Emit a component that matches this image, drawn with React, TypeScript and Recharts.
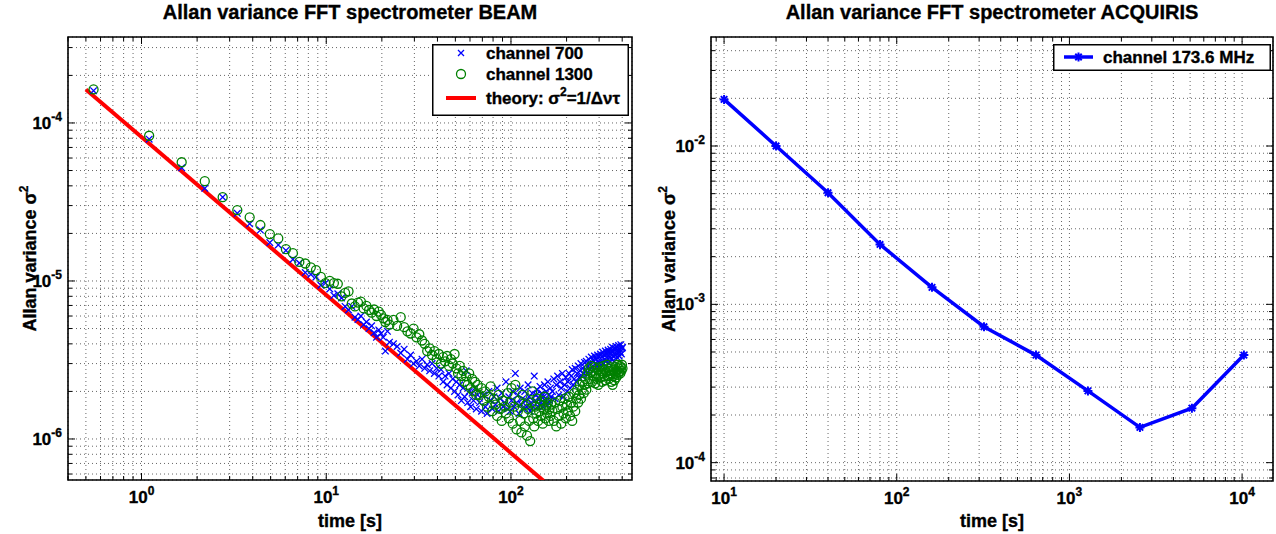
import React from 'react';
import {
  ComposedChart,
  Scatter,
  Line,
  XAxis,
  YAxis,
  CartesianGrid,
  ReferenceArea,
  Legend,
} from 'recharts';

const FONT = '"Liberation Sans", Arial, Helvetica, sans-serif';
const BLUE = '#0000ff';
const GREEN = '#008000';
const RED = '#ff0000';

// ---------- Left panel: BEAM (integration time tau [s]) ----------
const beamTau: number[] = [
  // every sample
  0.55, 1.1, 1.65, 2.2, 2.75, 3.3, 3.85, 4.4, 4.95, 5.5, 6.05, 6.6, 7.15, 7.7, 8.25, 8.8, 9.35, 9.9, 10.45, 11.0,
  11.55, 12.1, 12.65, 13.2, 13.75, 14.3, 14.85, 15.4, 15.95, 16.5, 17.05, 17.6, 18.15, 18.7, 19.25, 19.8, 20.35, 20.9, 21.45, 22.0,
  // every 2nd
  23.1, 24.2, 25.3, 26.4, 27.5, 28.6, 29.7, 30.8, 31.9, 33.0, 34.1, 35.2, 36.3, 37.4, 38.5, 39.6, 40.7, 41.8, 42.9, 44.0,
  45.1, 46.2, 47.3, 48.4, 49.5, 50.6, 51.7, 52.8, 53.9, 55.0, 56.1, 57.2, 58.3, 59.4, 60.5, 61.6, 62.7, 63.8, 64.9, 66.0,
  // every 3rd
  67.65, 69.3, 70.95, 72.6, 74.25, 75.9, 77.55, 79.2, 80.85, 82.5, 84.15, 85.8, 87.45, 89.1, 90.75, 92.4, 94.05, 95.7, 97.35, 99.0,
  100.65, 102.3, 103.95, 105.6, 107.25, 108.9, 110.55, 112.2, 113.85, 115.5, 117.15, 118.8, 120.45, 122.1, 123.75, 125.4, 127.05, 128.7, 130.35, 132.0,
  133.65, 135.3, 136.95, 138.6, 140.25, 141.9, 143.55, 145.2, 146.85, 148.5, 150.15, 151.8, 153.45, 155.1, 156.75, 158.4, 160.05, 161.7, 163.35, 165.0,
  // every 5th
  167.75, 170.5, 173.25, 176.0, 178.75, 181.5, 184.25, 187.0, 189.75, 192.5, 195.25, 198.0, 200.75,
  203.5, 206.25, 209.0, 211.75, 214.5, 217.25, 220.0, 222.75, 225.5, 228.25, 231.0, 233.75, 236.5, 239.25, 242.0, 244.75, 247.5, 250.25,
  253.0, 255.75, 258.5, 261.25, 264.0, 266.75, 269.5, 272.25, 275.0, 277.75, 280.5, 283.25, 286.0, 288.75, 291.5, 294.25, 297.0, 299.75,
  302.5, 305.25, 308.0, 310.75, 313.5, 316.25, 319.0, 321.75, 324.5, 327.25, 330.0, 332.75, 335.5, 338.25, 341.0, 343.75, 346.5, 349.25,
  352.0, 354.75, 357.5, 360.25, 363.0, 365.75, 368.5, 371.25, 374.0, 376.75, 379.5, 382.25, 385.0, 387.75, 390.5, 393.25, 396.0, 398.75, 401.5,
];

const channel700: number[] = [
  1.6e-4, 7.9e-5, 5.2e-5, 3.86e-5, 3.39e-5, 2.68e-5, 2.3e-5, 2.1e-5, 1.75e-5, 1.69e-5,
  1.56e-5, 1.37e-5, 1.3e-5, 1.13e-5, 1.1e-5, 1.06e-5, 9.4e-6, 9.7e-6, 8.9e-6, 8.1e-6,
  8.3e-6, 7.8e-6, 6.9e-6, 6.55e-6, 6.9e-6, 5.9e-6, 5.7e-6, 6.0e-6, 5.3e-6, 5.5e-6,
  5.0e-6, 5.2e-6, 4.7e-6, 4.4e-6, 4.9e-6, 4.65e-6, 4.4e-6, 3.6e-6, 4.8e-6, 4.1e-6,
  4.0e-6, 3.85e-6, 3.5e-6, 3.7e-6, 3.2e-6, 3.4e-6, 3.0e-6, 3.1e-6, 2.9e-6, 3.2e-6,
  2.8e-6, 2.95e-6, 2.7e-6, 3.0e-6, 2.6e-6, 2.8e-6, 2.5e-6, 2.75e-6, 2.3e-6, 2.5e-6,
  2.2e-6, 2.6e-6, 2.1e-6, 2.4e-6, 2.0e-6, 2.3e-6, 1.9e-6, 2.2e-6, 1.75e-6, 2.1e-6,
  1.85e-6, 2.7e-6, 1.7e-6, 2.0e-6, 1.6e-6, 1.95e-6, 1.75e-6, 2.1e-6, 1.55e-6, 1.9e-6,
  1.7e-6, 1.5e-6, 1.9e-6, 1.6e-6, 1.45e-6, 2.0e-6, 1.75e-6, 1.55e-6, 1.85e-6, 1.65e-6,
  2.1e-6, 1.5e-6, 1.8e-6, 1.95e-6, 1.6e-6, 1.7e-6, 2.3e-6, 1.55e-6, 1.85e-6, 1.5e-6,
  1.75e-6, 2.0e-6, 1.6e-6, 2.6e-6, 1.7e-6, 1.9e-6, 1.45e-6, 2.1e-6, 1.65e-6, 1.8e-6,
  1.55e-6, 2.0e-6, 1.75e-6, 1.6e-6, 2.2e-6, 1.85e-6, 1.5e-6, 1.7e-6, 1.95e-6, 1.6e-6,
  2.5e-6, 1.75e-6, 1.9e-6, 2.05e-6, 1.6e-6, 1.8e-6, 2.15e-6, 1.7e-6, 1.95e-6, 1.6e-6,
  1.85e-6, 2.2e-6, 1.75e-6, 2.0e-6, 1.65e-6, 2.3e-6, 1.9e-6, 1.75e-6, 2.1e-6, 1.85e-6,
  2.0e-6, 2.4e-6, 1.8e-6, 2.2e-6, 2.5e-6, 1.9e-6, 2.3e-6, 2.1e-6, 2.6e-6, 1.85e-6, 2.2e-6, 2.45e-6, 2.0e-6,
  2.3e-6, 2.6e-6, 2.1e-6, 2.5e-6, 2.75e-6, 2.2e-6, 2.4e-6, 2.8e-6, 2.3e-6, 2.6e-6, 2.9e-6, 2.45e-6, 2.7e-6, 3.0e-6, 2.5e-6, 2.8e-6, 2.6e-6, 3.05e-6,
  2.7e-6, 3.1e-6, 2.6e-6, 2.9e-6, 3.2e-6, 2.75e-6, 3.0e-6, 3.3e-6, 2.85e-6, 3.15e-6, 2.7e-6, 3.35e-6, 3.0e-6, 3.2e-6, 2.9e-6, 3.4e-6, 3.05e-6, 3.3e-6,
  2.9e-6, 3.45e-6, 3.1e-6, 3.3e-6, 3.55e-6, 3.0e-6, 3.4e-6, 3.2e-6, 3.6e-6, 3.1e-6, 3.45e-6, 3.25e-6, 3.65e-6, 3.0e-6, 3.5e-6, 3.3e-6, 3.7e-6, 3.2e-6,
  3.55e-6, 3.8e-6, 3.35e-6, 3.6e-6, 3.1e-6, 3.75e-6, 3.4e-6, 3.85e-6, 3.3e-6, 3.65e-6, 3.5e-6, 3.9e-6, 3.35e-6, 3.7e-6, 3.55e-6, 3.95e-6, 3.45e-6, 3.75e-6, 3.8e-6,
];

const channel1300: number[] = [
  1.63e-4, 8.3e-5, 5.64e-5, 4.28e-5, 3.39e-5, 2.81e-5, 2.53e-5, 2.26e-5, 1.98e-5, 1.86e-5,
  1.59e-5, 1.5e-5, 1.32e-5, 1.29e-5, 1.22e-5, 1.17e-5, 1.06e-5, 9.7e-6, 1.0e-5, 9.7e-6,
  9.6e-6, 8.0e-6, 8.4e-6, 8.6e-6, 7.2e-6, 6.9e-6, 7.3e-6, 7.4e-6, 6.7e-6, 6.95e-6,
  6.55e-6, 6.3e-6, 6.6e-6, 6.0e-6, 6.4e-6, 6.1e-6, 5.8e-6, 5.5e-6, 5.67e-6, 5.3e-6,
  5.67e-6, 5.2e-6, 5.9e-6, 5.1e-6, 4.8e-6, 4.65e-6, 5.0e-6, 4.4e-6, 4.6e-6, 4.2e-6,
  4.0e-6, 3.6e-6, 3.75e-6, 3.4e-6, 3.6e-6, 3.2e-6, 3.45e-6, 3.0e-6, 3.3e-6, 3.1e-6,
  3.35e-6, 2.9e-6, 3.2e-6, 3.0e-6, 3.45e-6, 2.8e-6, 2.6e-6, 2.9e-6, 2.5e-6, 2.7e-6,
  2.3e-6, 2.5e-6, 2.2e-6, 2.6e-6, 2.1e-6, 2.4e-6, 2.0e-6, 2.3e-6, 1.9e-6, 2.2e-6,
  1.9e-6, 2.1e-6, 1.75e-6, 2.0e-6, 1.6e-6, 1.85e-6, 2.15e-6, 1.5e-6, 1.8e-6, 1.65e-6,
  1.4e-6, 1.9e-6, 1.55e-6, 1.3e-6, 1.75e-6, 1.6e-6, 1.45e-6, 1.95e-6, 1.35e-6, 1.7e-6,
  2.1e-6, 1.25e-6, 1.6e-6, 2.2e-6, 1.15e-6, 1.5e-6, 1.75e-6, 1.3e-6, 1.1e-6, 1.9e-6,
  1.45e-6, 1.2e-6, 1.65e-6, 1.05e-6, 1.55e-6, 1.3e-6, 0.97e-6, 1.7e-6, 2.0e-6, 1.35e-6,
  1.2e-6, 1.6e-6, 1.45e-6, 1.8e-6, 1.3e-6, 1.5e-6, 1.65e-6, 1.4e-6, 1.75e-6, 1.25e-6,
  1.55e-6, 1.85e-6, 1.35e-6, 1.6e-6, 1.45e-6, 1.7e-6, 1.3e-6, 1.55e-6, 1.4e-6, 1.65e-6,
  1.5e-6, 1.3e-6, 1.7e-6, 1.2e-6, 1.55e-6, 1.4e-6, 1.75e-6, 1.25e-6, 1.6e-6, 1.45e-6, 1.8e-6, 1.35e-6, 1.65e-6,
  1.5e-6, 1.85e-6, 1.4e-6, 1.7e-6, 1.3e-6, 1.6e-6, 1.95e-6, 1.5e-6, 1.8e-6, 2.05e-6, 1.7e-6, 1.9e-6, 2.2e-6, 1.8e-6, 2.05e-6, 2.3e-6, 1.95e-6, 2.2e-6,
  2.4e-6, 2.05e-6, 2.6e-6, 2.25e-6, 2.8e-6, 2.4e-6, 2.65e-6, 2.9e-6, 2.3e-6, 2.7e-6, 2.5e-6, 2.85e-6, 2.25e-6, 2.6e-6, 2.4e-6, 2.75e-6, 2.2e-6, 2.55e-6,
  2.85e-6, 2.45e-6, 2.7e-6, 2.3e-6, 2.6e-6, 2.9e-6, 2.5e-6, 2.75e-6, 2.35e-6, 2.65e-6, 2.95e-6, 2.5e-6, 2.8e-6, 2.4e-6, 2.7e-6, 2.55e-6, 2.85e-6, 2.3e-6,
  2.6e-6, 2.2e-6, 2.5e-6, 2.75e-6, 2.35e-6, 2.6e-6, 2.85e-6, 2.45e-6, 2.7e-6, 2.95e-6, 2.55e-6, 2.8e-6, 2.65e-6, 2.9e-6, 2.6e-6, 2.85e-6, 2.7e-6, 2.95e-6, 2.8e-6,
];

const theoryTau: number[] = [0.5, 150];
const theoryVar: number[] = [1.63e-4, 5.43e-7];

const beamXTicks: number[] = [
  0.4, 0.5, 0.6, 0.7, 0.8, 0.9, 1, 2, 3, 4, 5, 6, 7, 8, 9, 10, 20, 30, 40, 50, 60, 70, 80, 90, 100, 200, 300, 400,
];
const beamYTicks: number[] = [
  6e-7, 7e-7, 8e-7, 9e-7, 1e-6, 2e-6, 3e-6, 4e-6, 5e-6, 6e-6, 7e-6, 8e-6, 9e-6,
  1e-5, 2e-5, 3e-5, 4e-5, 5e-5, 6e-5, 7e-5, 8e-5, 9e-5, 1e-4, 2e-4, 3e-4,
];
const beamXDomain: [number, number] = [0.4, 452];
const beamYDomain: [number, number] = [5.5e-7, 3.5e-4];

// ---------- Right panel: ACQUIRIS ----------
const acqTau: number[] = [10, 20, 40, 80, 160, 320, 640, 1280, 2560, 5120, 10240];
const acqVar: number[] = [0.0197, 0.01, 0.00507, 0.00239, 0.00128, 0.000722, 0.000478, 0.000284, 0.000167, 0.000221, 0.000478];

const acqXTicks: number[] = [
  9, 10, 20, 30, 40, 50, 60, 70, 80, 90, 100, 200, 300, 400, 500, 600, 700, 800, 900,
  1000, 2000, 3000, 4000, 5000, 6000, 7000, 8000, 9000, 10000,
];
const acqYTicks: number[] = [
  8e-5, 9e-5, 1e-4, 2e-4, 3e-4, 4e-4, 5e-4, 6e-4, 7e-4, 8e-4, 9e-4,
  1e-3, 2e-3, 3e-3, 4e-3, 5e-3, 6e-3, 7e-3, 8e-3, 9e-3, 1e-2, 2e-2, 3e-2, 4e-2,
];
const acqXDomain: [number, number] = [8.4, 15100];
const acqYDomain: [number, number] = [7.66e-5, 0.0488];

// ---------- table building ----------
const ch700Data = beamTau.map((t, i) => ({ x: t, y: channel700[i] }));
const ch1300Data = beamTau.map((t, i) => ({ x: t, y: channel1300[i] }));
const theoryData = theoryTau.map((t, i) => ({ x: t, y: theoryVar[i] }));
const acqData = acqTau.map((t, i) => ({ x: t, y: acqVar[i] }));

// ---------- helpers ----------
const isDecade = (v: number) => {
  const lg = Math.log10(v);
  return Math.abs(lg - Math.round(lg)) < 1e-6;
};

const TXT = { fontFamily: FONT, fontWeight: 'bold' as const, fill: '#000', stroke: '#000', strokeWidth: 0.35 };

const makeXTick = (plotTop: number) => (props: any) => {
  const { x, y, payload } = props;
  const v = payload.value as number;
  const major = isDecade(v);
  const len = major ? 7 : 4;
  return (
    <g>
      <line x1={x} x2={x} y1={y} y2={y - len} stroke="#000" strokeWidth={1} />
      <line x1={x} x2={x} y1={plotTop} y2={plotTop + len} stroke="#000" strokeWidth={1} />
      {major && (
        <text x={x} y={y + 23} textAnchor="middle" fontSize={17} {...TXT}>
          10
          <tspan dy={-8} fontSize={12}>
            {Math.round(Math.log10(v))}
          </tspan>
        </text>
      )}
    </g>
  );
};

const makeYTick = (plotRight: number) => (props: any) => {
  const { x, y, payload } = props;
  const v = payload.value as number;
  const major = isDecade(v);
  const len = major ? 7 : 4;
  return (
    <g>
      <line x1={x} x2={x + len} y1={y} y2={y} stroke="#000" strokeWidth={1} />
      <line x1={plotRight} x2={plotRight - len} y1={y} y2={y} stroke="#000" strokeWidth={1} />
      {major && (
        <text x={x - 6} y={y + 6} textAnchor="end" fontSize={17} {...TXT}>
          10
          <tspan dy={-8} fontSize={12}>
            {String(Math.round(Math.log10(v)))}
          </tspan>
        </text>
      )}
    </g>
  );
};

const CrossShape = (props: any) => {
  const { cx, cy } = props;
  if (cx == null || cy == null) return <g />;
  const s = 3.3;
  return (
    <path
      d={`M${cx - s},${cy - s}L${cx + s},${cy + s}M${cx - s},${cy + s}L${cx + s},${cy - s}`}
      stroke={BLUE}
      strokeWidth={1.3}
      fill="none"
    />
  );
};

const CircleShape = (props: any) => {
  const { cx, cy } = props;
  if (cx == null || cy == null) return <g />;
  return <circle cx={cx} cy={cy} r={4.5} stroke={GREEN} strokeWidth={1.3} fill="none" />;
};

const starPath = (cx: number, cy: number, s: number) => {
  const d = s * 0.72;
  return `M${cx - s},${cy}L${cx + s},${cy}M${cx},${cy - s}L${cx},${cy + s}M${cx - d},${cy - d}L${cx + d},${cy + d}M${cx - d},${cy + d}L${cx + d},${cy - d}`;
};

const StarDot = (props: any) => {
  const { cx, cy, index } = props;
  if (cx == null || cy == null) return <g key={`s${index}`} />;
  return <path key={`s${index}`} d={starPath(cx, cy, 4.5)} stroke={BLUE} strokeWidth={2} fill="none" />;
};

const LeftLegend = () => (
  <svg width={197} height={72} style={{ display: 'block' }}>
    <rect x={0.75} y={0.75} width={195.5} height={70.5} fill="#fff" stroke="#000" strokeWidth={1.5} />
    <path d="M26,6L32,12M26,12L32,6" stroke={BLUE} strokeWidth={1.3} />
    <text x={54} y={15} fontSize={17} {...TXT}>channel 700</text>
    <circle cx={29} cy={30} r={4.5} stroke={GREEN} strokeWidth={1.3} fill="none" />
    <text x={54} y={36} fontSize={17} {...TXT}>channel 1300</text>
    <line x1={14} x2={44} y1={54} y2={54} stroke={RED} strokeWidth={4} />
    <text x={54} y={59.5} fontSize={17} {...TXT}>
      theory: σ<tspan dy={-8} fontSize={12}>2</tspan>
      <tspan dy={8}>=1/Δντ</tspan>
    </text>
  </svg>
);

const RightLegend = () => (
  <svg width={218} height={27} style={{ display: 'block' }}>
    <rect x={0.75} y={0.75} width={216.5} height={25.5} fill="#fff" stroke="#000" strokeWidth={1.5} />
    <line x1={11} x2={40} y1={13} y2={13} stroke={BLUE} strokeWidth={3.5} />
    <path d={starPath(25.5, 13, 4.5)} stroke={BLUE} strokeWidth={2} fill="none" />
    <text x={50} y={19} fontSize={17} {...TXT}>channel 173.6 MHz</text>
  </svg>
);

const TitleText = ({ x, text }: { x: number; text: string }) => (
  <text x={x} y={19} textAnchor="middle" fontSize={20} {...TXT}>
    {text}
  </text>
);

const YLabel = (cx: number, cy: number) => () => (
  <text x={cx} y={cy} transform={`rotate(-90, ${cx}, ${cy})`} textAnchor="middle" fontSize={18} {...TXT}>
    Allan variance σ<tspan dy={-8} fontSize={12}>2</tspan>
  </text>
);

const XLabel = (cx: number, cy: number) => () => (
  <text x={cx} y={cy} textAnchor="middle" fontSize={18} {...TXT}>
    time [s]
  </text>
);

export default function App() {
  const L = { w: 640, h: 534, top: 37, right: 8, yAxisW: 68, xAxisH: 54 };
  const lPlotRight = L.w - L.right;
  const R = { left: 640, w: 636, h: 534, top: 37, right: 3, yAxisW: 71, xAxisH: 53 };
  const rPlotRight = R.w - R.right;

  return (
    <div style={{ position: 'absolute', left: 0, top: 0, width: 1276, height: 534, background: '#fff', overflow: 'hidden' }}>
      <svg width={1276} height={30} style={{ position: 'absolute', left: 0, top: 0 }}>
        <TitleText x={(L.yAxisW + lPlotRight) / 2} text="Allan variance FFT spectrometer BEAM" />
        <TitleText x={R.left + (R.yAxisW + rPlotRight) / 2} text="Allan variance FFT spectrometer ACQUIRIS" />
      </svg>

      <div style={{ position: 'absolute', left: 0, top: 0 }}>
        <ComposedChart width={L.w} height={L.h} margin={{ top: L.top, right: L.right, bottom: 0, left: 0 }}>
          <CartesianGrid stroke="#666" strokeDasharray="1 3" strokeWidth={1} />
          <XAxis
            dataKey="x"
            type="number"
            scale="log"
            domain={beamXDomain}
            allowDataOverflow
            ticks={beamXTicks}
            interval={0}
            height={L.xAxisH}
            tickSize={0}
            tickMargin={0}
            tickLine={false}
            axisLine={false}
            tick={makeXTick(L.top)}
            label={{ content: XLabel((L.yAxisW + lPlotRight) / 2, 527) }}
          />
          <YAxis
            type="number"
            scale="log"
            domain={beamYDomain}
            allowDataOverflow
            ticks={beamYTicks}
            interval={0}
            width={L.yAxisW}
            tickSize={0}
            tickMargin={0}
            tickLine={false}
            axisLine={false}
            tick={makeYTick(lPlotRight)}
            label={{ content: YLabel(36, (L.top + (L.h - L.xAxisH)) / 2) }}
          />
          <ReferenceArea
            x1={beamXDomain[0]}
            x2={beamXDomain[1]}
            y1={beamYDomain[0]}
            y2={beamYDomain[1]}
            fill="none"
            fillOpacity={0}
            stroke="#000"
            strokeWidth={1.6}
            ifOverflow="visible"
          />
          <Scatter name="channel 700" data={ch700Data} dataKey="y" shape={CrossShape} isAnimationActive={false} />
          <Scatter name="channel 1300" data={ch1300Data} dataKey="y" shape={CircleShape} isAnimationActive={false} />
          <Line
            name="theory"
            data={theoryData}
            dataKey="y"
            type="linear"
            stroke={RED}
            strokeWidth={4}
            dot={false}
            activeDot={false}
            isAnimationActive={false}
          />
          <Legend
            layout="horizontal"
            verticalAlign="middle"
            align="center"
            content={LeftLegend}
            wrapperStyle={{ left: 432, top: 44, width: 197, height: 72 }}
          />
        </ComposedChart>
      </div>

      <div style={{ position: 'absolute', left: R.left, top: 0 }}>
        <ComposedChart width={R.w} height={R.h} margin={{ top: R.top, right: R.right, bottom: 0, left: 0 }}>
          <CartesianGrid stroke="#666" strokeDasharray="1 3" strokeWidth={1} />
          <XAxis
            dataKey="x"
            type="number"
            scale="log"
            domain={acqXDomain}
            allowDataOverflow
            ticks={acqXTicks}
            interval={0}
            height={R.xAxisH}
            tickSize={0}
            tickMargin={0}
            tickLine={false}
            axisLine={false}
            tick={makeXTick(R.top)}
            label={{ content: XLabel((R.yAxisW + rPlotRight) / 2, 527) }}
          />
          <YAxis
            type="number"
            scale="log"
            domain={acqYDomain}
            allowDataOverflow
            ticks={acqYTicks}
            interval={0}
            width={R.yAxisW}
            tickSize={0}
            tickMargin={0}
            tickLine={false}
            axisLine={false}
            tick={makeYTick(rPlotRight)}
            label={{ content: YLabel(35, (R.top + (R.h - R.xAxisH)) / 2) }}
          />
          <ReferenceArea
            x1={acqXDomain[0]}
            x2={acqXDomain[1]}
            y1={acqYDomain[0]}
            y2={acqYDomain[1]}
            fill="none"
            fillOpacity={0}
            stroke="#000"
            strokeWidth={1.6}
            ifOverflow="visible"
          />
          <Line
            name="channel 173.6 MHz"
            data={acqData}
            dataKey="y"
            type="linear"
            stroke={BLUE}
            strokeWidth={3.5}
            dot={StarDot}
            activeDot={false}
            isAnimationActive={false}
          />
          <Legend
            layout="horizontal"
            verticalAlign="middle"
            align="center"
            content={RightLegend}
            wrapperStyle={{ left: 413, top: 44, width: 218, height: 27 }}
          />
        </ComposedChart>
      </div>
    </div>
  );
}
